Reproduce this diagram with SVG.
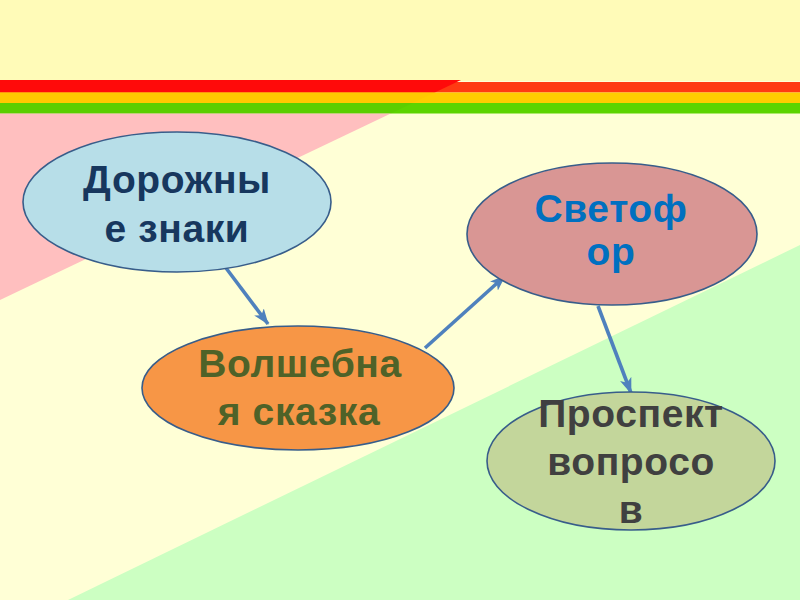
<svg xmlns="http://www.w3.org/2000/svg" width="800" height="600" viewBox="0 0 800 600">
<style>
.node ellipse{stroke:#385D8A;stroke-width:1.6}
.node text{font-family:"Liberation Sans",Arial,sans-serif;font-weight:bold;font-size:39px;letter-spacing:0.6px;text-anchor:middle}
.conn line{stroke:#4F81BD;stroke-width:3.6;fill:none}
</style>
<defs>
<marker id="ah" viewBox="0 0 16 12" refX="15" refY="6" markerWidth="16" markerHeight="12" markerUnits="userSpaceOnUse" orient="auto">
<path d="M0,0 L16,6 L0,12 L4,6 Z" fill="#4F81BD"/>
</marker>
<clipPath id="leftclip"><polygon points="0,80 461,80 0,300"/></clipPath>
</defs>
<g id="background">
<rect x="0" y="0" width="800" height="600" fill="#FFFFD6"/>
<rect x="0" y="0" width="800" height="81" fill="#FFFBB8"/>
<polygon points="800,245 800,600 68,600" fill="#CCFFC2"/>
<rect x="0" y="82" width="800" height="10.5" fill="#FF3A12"/>
<rect x="0" y="92.5" width="800" height="10.5" fill="#FFCC00"/>
<rect x="0" y="103" width="800" height="10.5" fill="#5CD400"/>
<g clip-path="url(#leftclip)">
<rect x="0" y="80" width="470" height="12.5" fill="#FF0A0A"/>
<rect x="0" y="92.5" width="470" height="10.5" fill="#FFC800"/>
<rect x="0" y="103" width="470" height="10.5" fill="#5ACE00"/>
<rect x="0" y="113.5" width="470" height="190" fill="#FFBFBF"/>
</g>
</g>
<g id="connectors" class="conn">
<line x1="226" y1="268" x2="268" y2="324" marker-end="url(#ah)"/>
<line x1="425" y1="348" x2="505" y2="276" marker-end="url(#ah)"/>
<line x1="598" y1="306" x2="631" y2="393" marker-end="url(#ah)"/>
</g>
<g id="node-dorozhnye" class="node">
<ellipse cx="177" cy="202" rx="154" ry="70" fill="#B7DEE8"/>
<text x="177" y="193" fill="#17375E">Дорожны</text>
<text x="177" y="242" fill="#17375E">е знаки</text>
</g>
<g id="node-svetofor" class="node">
<ellipse cx="612" cy="234" rx="145" ry="71" fill="#D99694"/>
<text x="611" y="222" fill="#0070C0">Светоф</text>
<text x="611" y="265" fill="#0070C0">ор</text>
</g>
<g id="node-volshebnaya" class="node">
<ellipse cx="298" cy="388" rx="156" ry="62" fill="#F79646"/>
<text x="300" y="377" fill="#4F6228">Волшебна</text>
<text x="299" y="425" fill="#4F6228">я сказка</text>
</g>
<g id="node-prospekt" class="node">
<ellipse cx="631" cy="461" rx="144" ry="69" fill="#C3D69B"/>
<text x="631" y="427" fill="#404040">Проспект</text>
<text x="631" y="475" fill="#404040">вопросо</text>
<text x="631" y="523" fill="#404040">в</text>
</g>
</svg>
